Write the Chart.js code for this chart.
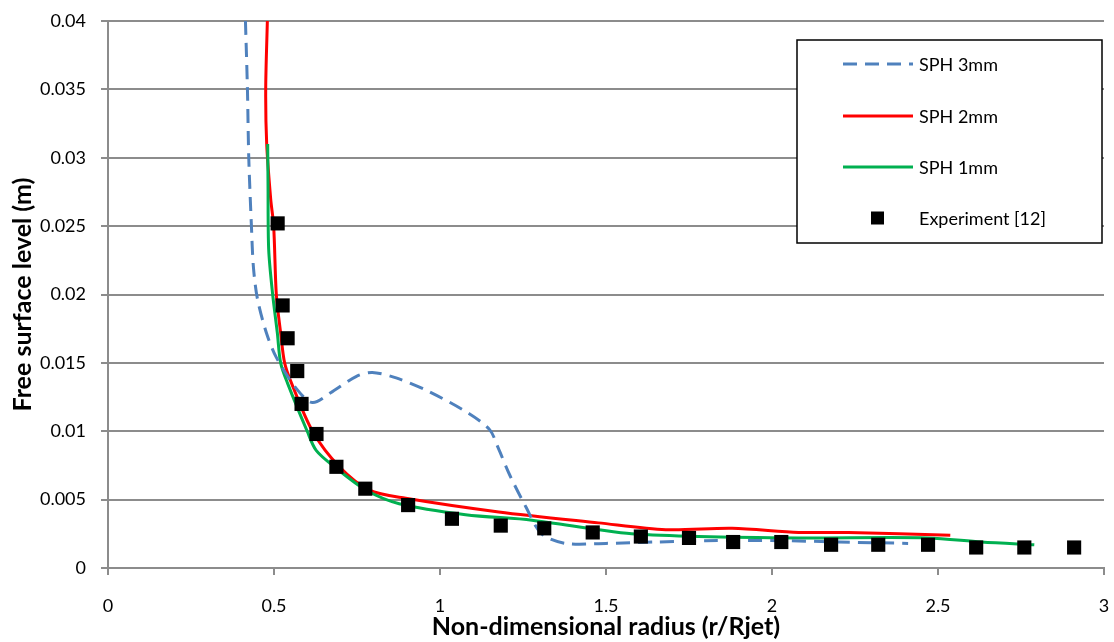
<!DOCTYPE html>
<html>
<head>
<meta charset="utf-8">
<script src="https://cdn.jsdelivr.net/npm/chart.js@4.4.1/dist/chart.umd.min.js"></script>
<style>
  body { margin: 0; background: #fff; }
  canvas { display: block; }
</style>
</head>
<body>
<canvas id="chartContext" width="1114" height="642"></canvas>
<script>
// SPH 3mm (dashed blue)
const sph3X = [0.414, 0.42, 0.424, 0.432, 0.438, 0.45, 0.477, 0.507, 0.568, 0.616, 0.676, 0.747, 0.796, 0.868, 0.967, 1.087, 1.15, 1.175, 1.21, 1.258, 1.306, 1.378, 1.5, 1.65, 1.8, 2.03, 2.2, 2.41];
const sph3Y = [0.04, 0.035, 0.03, 0.025, 0.022, 0.0197, 0.0172, 0.0154, 0.0131, 0.0121, 0.0129, 0.014, 0.0143, 0.0139, 0.0129, 0.0113, 0.0101, 0.0088, 0.0068, 0.0045, 0.0025, 0.0018, 0.0018, 0.0019, 0.002, 0.002, 0.0019, 0.0018];

// SPH 2mm (red)
const sph2X = [0.48, 0.475, 0.478, 0.49, 0.499, 0.507, 0.52, 0.532, 0.553, 0.616, 0.697, 0.787, 0.897, 1.177, 1.477, 1.68, 1.88, 2.08, 2.23, 2.537];
const sph2Y = [0.04, 0.035, 0.031, 0.027, 0.025, 0.02, 0.0172, 0.015, 0.0135, 0.01, 0.0074, 0.0057, 0.0051, 0.0041, 0.0033, 0.0028, 0.0029, 0.0026, 0.0026, 0.0024];

// SPH 1mm (green)
const sph1X = [0.481, 0.482, 0.484, 0.496, 0.51, 0.52, 0.541, 0.6, 0.627, 0.682, 0.777, 0.877, 1.077, 1.277, 1.477, 1.577, 1.78, 2.08, 2.47, 2.63, 2.79];
const sph1Y = [0.031, 0.028, 0.0233, 0.02, 0.0172, 0.015, 0.0135, 0.01, 0.0086, 0.0074, 0.0057, 0.0047, 0.0039, 0.0035, 0.0028, 0.0025, 0.0023, 0.0022, 0.0022, 0.0019, 0.0017];

// Experiment [12]
const expX = [0.511, 0.526, 0.541, 0.57, 0.583, 0.628, 0.688, 0.775, 0.904, 1.036, 1.183, 1.314, 1.46, 1.605, 1.75, 1.883, 2.028, 2.178, 2.32, 2.47, 2.615, 2.76, 2.91];
const expY = [0.0252, 0.0192, 0.0168, 0.0144, 0.012, 0.0098, 0.0074, 0.0058, 0.0046, 0.0036, 0.0031, 0.0029, 0.0026, 0.0023, 0.0022, 0.0019, 0.0019, 0.0017, 0.0017, 0.0017, 0.0015, 0.0015, 0.0015];

const FONT = "Lato, 'Open Sans', sans-serif";
const GRID = "#8c8c8c";

// Pair up x/y arrays into points
function toPoints(xs, ys) {
    return xs.map((x, i) => ({ x: x, y: ys[i] }));
}

// Legend drawn as a boxed panel inside the plot, like the original
const boxLegend = {
    id: "boxLegend",
    afterDraw(chart) {
        const ctx = chart.ctx;
        ctx.save();
        ctx.fillStyle = "#fff";
        ctx.fillRect(797, 40, 305, 203);
        ctx.strokeStyle = "#000";
        ctx.lineWidth = 1.5;
        ctx.strokeRect(797, 40, 305, 203);

        const rows = [64, 116, 167, 218];
        chart.data.datasets.forEach((ds, i) => {
            const y = rows[i];
            if (ds.showLine) {
                ctx.beginPath();
                ctx.strokeStyle = ds.borderColor;
                ctx.lineWidth = ds.borderWidth;
                ctx.setLineDash(ds.borderDash || []);
                ctx.moveTo(843, y);
                ctx.lineTo(913, y);
                ctx.stroke();
                ctx.setLineDash([]);
            } else {
                ctx.fillStyle = "#000";
                ctx.fillRect(871, y - 6.5, 13, 13);
            }
            ctx.fillStyle = "#000";
            ctx.font = "18px " + FONT;
            ctx.textAlign = "left";
            ctx.textBaseline = "middle";
            ctx.fillText(ds.label, 919, y + 1);
        });
        ctx.restore();
    }
};

new Chart(document.getElementById("chartContext"), {
    type: "scatter",
    data: {
        datasets: [
            {
                label: "SPH 3mm",
                data: toPoints(sph3X, sph3Y),
                showLine: true,
                borderColor: "#4f81bd",
                borderWidth: 3,
                borderDash: [14, 8],
                pointRadius: 0,
                tension: 0.3,
                order: 2,
            },
            {
                label: "SPH 2mm",
                data: toPoints(sph2X, sph2Y),
                showLine: true,
                borderColor: "#ff0000",
                borderWidth: 3,
                pointRadius: 0,
                tension: 0.3,
                order: 4,
            },
            {
                label: "SPH 1mm",
                data: toPoints(sph1X, sph1Y),
                showLine: true,
                borderColor: "#00b050",
                borderWidth: 3,
                pointRadius: 0,
                tension: 0.3,
                order: 3,
            },
            {
                label: "Experiment [12]",
                data: toPoints(expX, expY),
                showLine: false,
                pointStyle: "rect",
                pointRadius: 10,
                backgroundColor: "#000",
                borderColor: "#000",
                borderWidth: 0,
                order: 1,
            },
        ],
    },
    options: {
        responsive: false,
        animation: false,
        layout: { padding: { top: 21, right: 7, left: 0, bottom: 0 } },
        plugins: {
            legend: { display: false },
            tooltip: { enabled: false },
        },
        scales: {
            x: {
                type: "linear",
                min: 0,
                max: 3,
                afterFit: (axis) => {
                    axis.height = 74;
                    axis.paddingLeft = 0;
                    axis.paddingRight = 0;
                },
                ticks: {
                    stepSize: 0.5,
                    padding: 20,
                    color: "#000",
                    font: { family: FONT, size: 18 },
                    callback: (v) => String(+v.toFixed(1)),
                },
                grid: {
                    drawOnChartArea: false,
                    drawTicks: true,
                    tickLength: 7,
                    color: GRID,
                    lineWidth: 2,
                },
                border: { color: GRID, width: 2 },
                title: {
                    display: true,
                    text: "Non-dimensional radius (r/Rjet)",
                    color: "#000",
                    font: { family: FONT, size: 25, weight: "bold" },
                    padding: { top: 0, bottom: 0 },
                },
            },
            y: {
                min: 0,
                max: 0.04,
                afterFit: (axis) => {
                    axis.width = 108;
                    axis.paddingTop = 0;
                    axis.paddingBottom = 0;
                },
                ticks: {
                    stepSize: 0.005,
                    padding: 15,
                    color: "#000",
                    font: { family: FONT, size: 18 },
                    callback: (v) => String(+v.toFixed(3)),
                },
                grid: {
                    drawTicks: true,
                    tickLength: 7,
                    color: GRID,
                    lineWidth: 2,
                },
                border: { color: GRID, width: 2 },
                title: {
                    display: true,
                    text: "Free surface level (m)",
                    color: "#000",
                    font: { family: FONT, size: 25, weight: "bold" },
                    padding: { top: 8, bottom: 0 },
                },
            },
        },
    },
    plugins: [boxLegend],
});
</script>
</body>
</html>
